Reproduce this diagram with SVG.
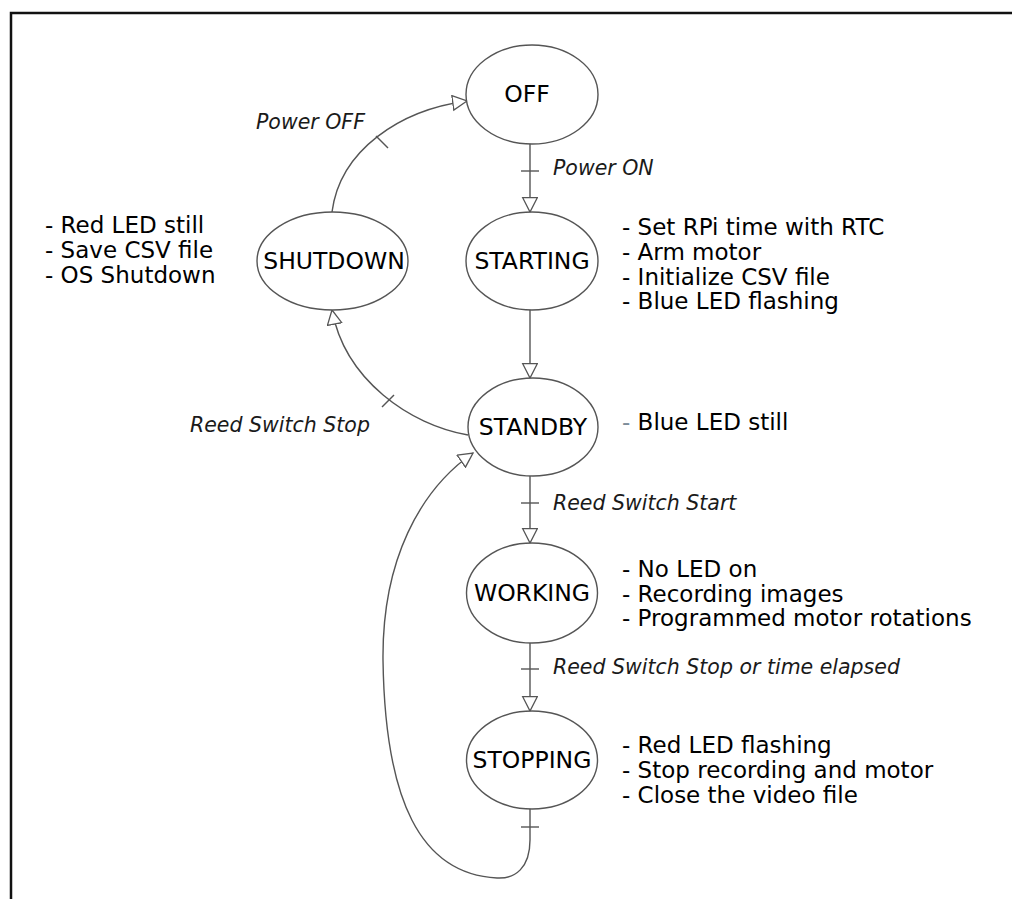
<svg xmlns="http://www.w3.org/2000/svg" width="1012" height="899" viewBox="0 0 1012 899">
<style>
.node{fill:#fff;stroke:#555;stroke-width:1.4}
.lbl{font-family:"DejaVu Sans",sans-serif;font-size:23.5px;fill:#000;text-anchor:middle}
.desc{font-family:"DejaVu Sans",sans-serif;font-size:23px;fill:#000}
.ev{font-family:"DejaVu Sans",sans-serif;font-size:20.5px;font-style:italic;fill:#1a1a1a}
.edge{fill:none;stroke:#555;stroke-width:1.4}
.tick{stroke:#555;stroke-width:1.4}
</style>
<defs>
<marker id="arr" markerUnits="userSpaceOnUse" markerWidth="18" markerHeight="18" refX="15" refY="8" orient="auto">
<path d="M0.7,0.7 L15,8 L0.7,15.3 Z" fill="#fff" stroke="#555" stroke-width="1.3"/>
</marker>
</defs>
<rect width="1012" height="899" fill="#fff"/>
<path d="M11,899 V13 H1012" fill="none" stroke="#111" stroke-width="2.5"/>
<g id="connectors">
<path class="edge" d="M530,144 V212" marker-end="url(#arr)"/>
<line class="tick" x1="521" y1="171" x2="539" y2="171"/>
<path class="edge" d="M530,310 V378" marker-end="url(#arr)"/>
<path class="edge" d="M530,476 V543" marker-end="url(#arr)"/>
<line class="tick" x1="521" y1="503" x2="539" y2="503"/>
<path class="edge" d="M530,643 V711" marker-end="url(#arr)"/>
<line class="tick" x1="521" y1="669" x2="539" y2="669"/>
<path class="edge" d="M332,212 C340,150 400,110 467,101" marker-end="url(#arr)"/>
<line class="tick" x1="376" y1="136" x2="388" y2="148"/>
<path class="edge" d="M468,435 C410,425 345,380 332,310" marker-end="url(#arr)"/>
<line class="tick" x1="382" y1="407" x2="394" y2="395"/>
<path class="edge" d="M530,809 V840 C530,868 515,879 497,878 C420,874 385,800 383,660 C382,560 420,490 473,453" marker-end="url(#arr)"/>
<line class="tick" x1="521" y1="827" x2="539" y2="827"/>
<text class="ev" x="256" y="129">Power OFF</text>
<text class="ev" x="553" y="175">Power ON</text>
<text class="ev" x="190" y="432">Reed Switch Stop</text>
<text class="ev" x="553" y="510">Reed Switch Start</text>
<text class="ev" x="553" y="674">Reed Switch Stop or time elapsed</text>
</g>
<g id="off">
<ellipse class="node" cx="532" cy="94.5" rx="66" ry="49.5"/>
<text class="lbl" x="527" y="102">OFF</text>
</g>
<g id="starting">
<ellipse class="node" cx="532" cy="261" rx="66" ry="49"/>
<text class="lbl" x="532" y="269">STARTING</text>
<text class="desc" x="622" y="235">- Set RPi time with RTC</text>
<text class="desc" x="622" y="260">- Arm motor</text>
<text class="desc" x="622" y="285">- Initialize CSV file</text>
<text class="desc" x="622" y="309">- Blue LED flashing</text>
</g>
<g id="shutdown">
<ellipse class="node" cx="332.5" cy="261" rx="75.5" ry="49"/>
<text class="lbl" x="334" y="269">SHUTDOWN</text>
<text class="desc" x="45" y="233">- Red LED still</text>
<text class="desc" x="45" y="258">- Save CSV file</text>
<text class="desc" x="45" y="283">- OS Shutdown</text>
</g>
<g id="standby">
<ellipse class="node" cx="533" cy="427" rx="65" ry="49"/>
<text class="lbl" x="533" y="435">STANDBY</text>
<text class="desc" x="622" y="430"><tspan fill="#7d8c99">-</tspan> Blue LED still</text>
</g>
<g id="working">
<ellipse class="node" cx="532" cy="593" rx="65.5" ry="50"/>
<text class="lbl" x="532" y="601">WORKING</text>
<text class="desc" x="622" y="577">- No LED on</text>
<text class="desc" x="622" y="602">- Recording images</text>
<text class="desc" x="622" y="626">- Programmed motor rotations</text>
</g>
<g id="stopping">
<ellipse class="node" cx="532" cy="760" rx="65.5" ry="49"/>
<text class="lbl" x="532" y="768">STOPPING</text>
<text class="desc" x="622" y="753">- Red LED flashing</text>
<text class="desc" x="622" y="778">- Stop recording and motor</text>
<text class="desc" x="622" y="803">- Close the video file</text>
</g>
</svg>
